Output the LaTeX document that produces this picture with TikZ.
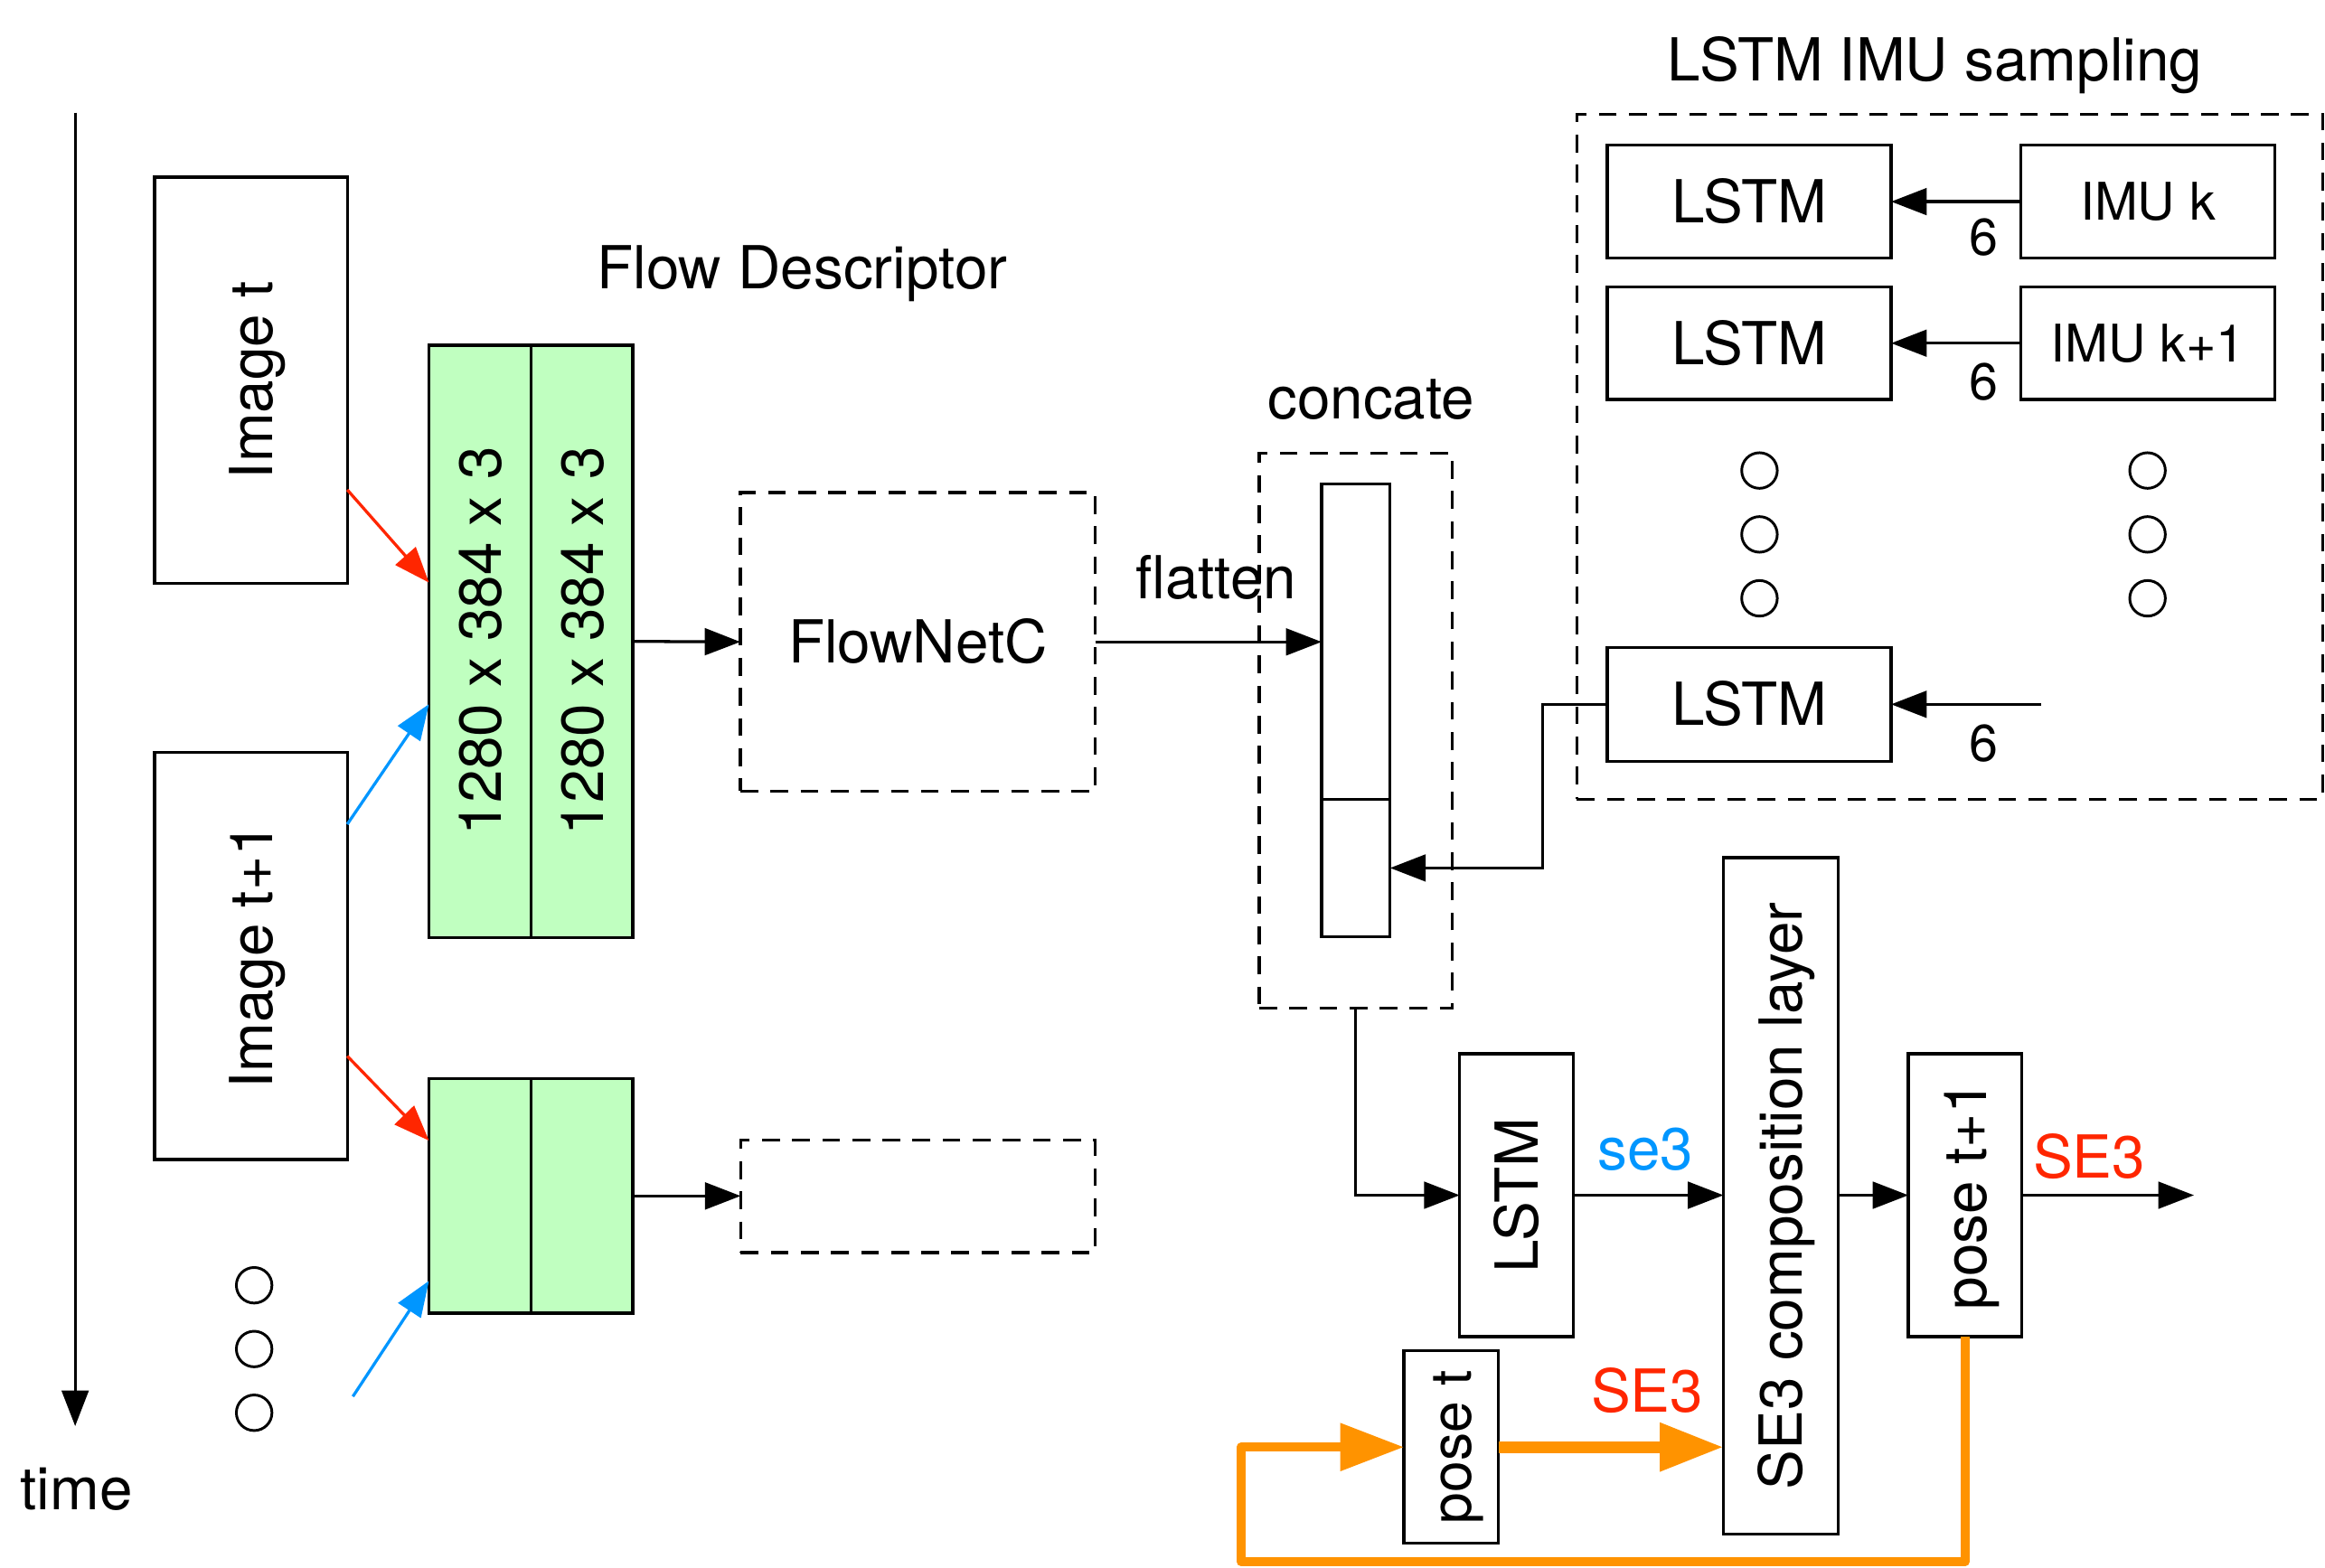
\documentclass[tikz,border=0pt]{standalone}
\usepackage{fontspec}
\setmainfont{TeX Gyre Heros}
\usepackage{graphicx}
\usetikzlibrary{arrows.meta}
\definecolor{gfill}{RGB}{192,255,192}
\definecolor{myred}{RGB}{255,38,0}
\definecolor{myblue}{RGB}{0,150,255}
\definecolor{myorange}{RGB}{255,147,0}
\newcommand{\vtxt}[1]{\rotatebox{90}{\raisebox{0pt}[0.72em][0pt]{#1}}}
\newcommand{\htxt}[1]{\raisebox{0pt}[0.72em][0pt]{#1}}
\begin{document}
\begin{tikzpicture}[x=1pt,y=-1pt,
  every node/.style={font=\fontsize{40}{48}\selectfont, inner sep=0pt, outer sep=0pt},
  box/.style={draw, line width=2pt, rectangle},
  gbox/.style={box, fill=gfill},
  dbox/.style={draw, line width=2pt, rectangle, dash pattern=on 12pt off 8.3pt},
  small/.style={font=\fontsize{35}{42}\selectfont},
  dotc/.style={draw, circle, line width=1.8pt, minimum size=24pt},
  arr/.style={line width=2pt, -{Triangle[length=24pt,width=18pt]}},
  carr/.style={line width=2pt, -{Triangle[length=24pt,width=18pt]}},
  oarr/.style={draw=myorange, line width=8pt, -{Triangle[length=43pt,width=31pt]}},
  oloop/.style={draw=myorange, line width=6pt, line join=round, -{Triangle[length=43pt,width=31pt]}},
  lbl/.style={anchor=base}
]
\useasboundingbox[fill=white] (0,0) rectangle (1568,1057.7);

% time axis
\coordinate (tA) at (50.7,76);
\coordinate (tB) at (50.7,962);
\draw[arr] (tA) -- (tB);
\node[lbl] (lbltime) at (51.6,1018.5) {time};

% images
\node[box, minimum width=130pt, minimum height=274pt] (imgt) at (169.2,256.5) {\vtxt{Image t}};
\node[box, minimum width=130pt, minimum height=274.5pt] (imgt1) at (169.2,644.95) {\vtxt{Image t+1}};

% dots left
\node[dotc] (dl1) at (171.4,867) {};
\node[dotc] (dl2) at (171.4,910) {};
\node[dotc] (dl3) at (171.4,953) {};

% green descriptors
\node[lbl] (lblflow) at (541,195) {Flow Descriptor};
\node[gbox, minimum width=69pt, minimum height=399.5pt] (g1a) at (323.8,432.65) {\vtxt{1280 x 384 x 3}};
\node[gbox, minimum width=68.5pt, minimum height=399.5pt] (g1b) at (392.55,432.65) {\vtxt{1280 x 384 x 3}};
\node[gbox, minimum width=69pt, minimum height=158.1pt] (g2a) at (323.8,806.75) {};
\node[gbox, minimum width=68.5pt, minimum height=158.1pt] (g2b) at (392.55,806.75) {};

% colored inputs
\draw[carr, myred] (imgt.east |- 0,330.4) -- (g1a.west |- 0,393);
\draw[carr, myblue] (imgt1.east |- 0,556) -- (g1a.west |- 0,475);
\draw[carr, myred] (imgt1.east |- 0,712.4) -- (g2a.west |- 0,769.4);
\coordinate (b2s) at (238,942);
\draw[carr, myblue] (b2s) -- (g2a.west |- 0,864);

% FlowNetC
\node[dbox, minimum width=239.4pt, minimum height=201.4pt] (flownet) at (619,433) {\htxt{FlowNetC}};
\node[dbox, minimum width=239.2pt, minimum height=75.8pt] (dbox2) at (619.1,807.1) {};
\draw[arr] (g1b.east) -- (flownet.west);
\draw[arr] (g2b.east) -- (g2b.east -| dbox2.west);

% concat
\node[lbl] (lblconcat) at (924.7,282.5) {concate};
\node[dbox, minimum width=130.2pt, minimum height=374.4pt] (concat) at (914.3,492.8) {};
\node[box, minimum width=46.2pt, minimum height=212.4pt] (barA) at (914.4,432.8) {};
\node[box, minimum width=46.2pt, minimum height=93pt] (barB) at (914.4,585.5) {};
\draw[arr] (flownet.east) -- (flownet.east -| barA.west);
\node[lbl] (lblflat) at (820,403.6) {flatten};

% LSTM IMU sampling
\node[lbl] (lblimu) at (1305,54.3) {LSTM IMU sampling};
\node[dbox, minimum width=503pt, minimum height=462pt] (imubox) at (1315,308) {};
\node[box, minimum width=191.5pt, minimum height=76pt] (lstm1) at (1179.65,136) {\htxt{LSTM}};
\node[box, minimum width=191.5pt, minimum height=76pt] (lstm2) at (1179.65,231.5) {\htxt{LSTM}};
\node[box, minimum width=191.5pt, minimum height=76.6pt] (lstm3) at (1179.65,475.1) {\htxt{LSTM}};
\node[box, small, minimum width=171pt, minimum height=76pt] (imu1) at (1448.5,136) {\htxt{IMU k}};
\node[box, small, minimum width=171pt, minimum height=76pt] (imu2) at (1448.5,231.5) {\htxt{IMU k+1}};
\draw[arr] (imu1.west) -- (lstm1.east);
\draw[arr] (imu2.west) -- (lstm2.east);
\coordinate (c6) at (1376.4,475.1);
\draw[arr] (c6) -- (lstm3.east);
\node[lbl, small] (six1) at (1338,172) {6};
\node[lbl, small] (six2) at (1338,269.5) {6};
\node[lbl, small] (six3) at (1338,513.7) {6};
\node[dotc] (da1) at (1186.6,317.4) {};
\node[dotc] (da2) at (1186.6,360.5) {};
\node[dotc] (da3) at (1186.6,403.6) {};
\node[dotc] (db1) at (1448.3,317.4) {};
\node[dotc] (db2) at (1448.3,360.5) {};
\node[dotc] (db3) at (1448.3,403.6) {};
\draw[arr] (lstm3.west) -- ++(-43.4,0) |- (barB.east);

% pose estimation
\node[box, minimum width=76.6pt, minimum height=190.9pt] (lstmv) at (1022.7,806.25) {\vtxt{LSTM}};
\node[box, minimum width=77.2pt, minimum height=456.5pt] (se3box) at (1200.9,806.75) {\vtxt{SE3 composition layer}};
\node[box, minimum width=76.6pt, minimum height=190.9pt] (poset1) at (1325.3,806.25) {\vtxt{pose t+1}};
\node[box, font=\fontsize{38}{46}\selectfont, minimum width=63.8pt, minimum height=129.7pt] (poset) at (978.7,976.15) {\vtxt{pose t}};
\draw[arr] (concat.south) |- (lstmv.west);
\draw[arr] (lstmv.east) -- (lstmv.east -| se3box.west);
\draw[arr] (se3box.east |- poset1.west) -- (poset1.west);
\coordinate (outc) at (1479.6,806.25);
\draw[arr] (poset1.east) -- (outc);
\node[lbl, text=myblue] (lblse3) at (1109.6,789) {se3};
\node[lbl, text=myred] (lblSE3a) at (1110.8,952.4) {SE3};
\node[lbl, text=myred] (lblSE3b) at (1409,794.4) {SE3};

% orange feedback
\draw[oarr] (poset.east) -- (poset.east -| se3box.west);
\coordinate (lc) at (837,1053.5);
\draw[oloop] (poset1.south) |- (lc) |- (poset.west);
\end{tikzpicture}
\end{document}
